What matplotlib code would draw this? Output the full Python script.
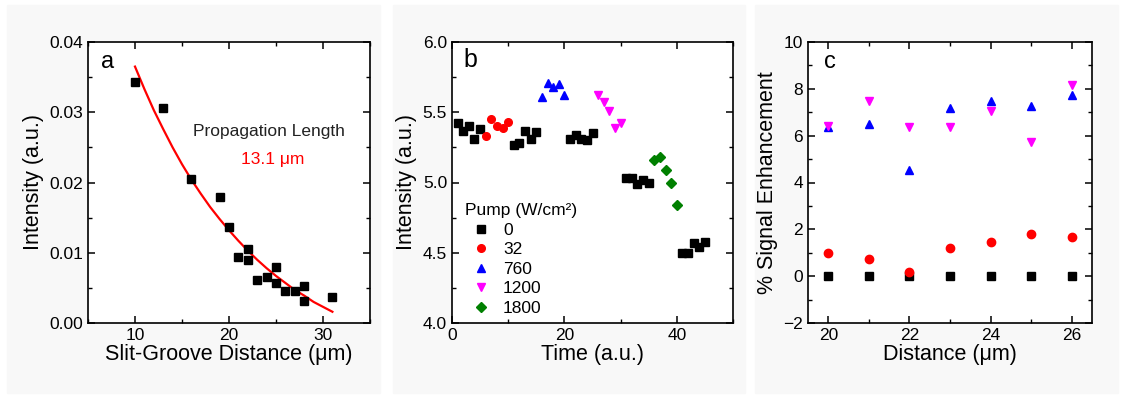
import numpy as np
import matplotlib
matplotlib.use("Agg")
import matplotlib.pyplot as plt
from matplotlib.patches import Rectangle
from matplotlib.ticker import MultipleLocator

plt.rcParams['font.family'] = ['Liberation Sans', 'DejaVu Sans']
plt.rcParams['xtick.direction'] = 'in'
plt.rcParams['ytick.direction'] = 'in'
plt.rcParams['xtick.top'] = True
plt.rcParams['ytick.right'] = True

# panel a: intensity vs slit-groove distance
dist_a = [10, 13, 16, 19, 20, 22, 21, 22, 23, 24, 25, 25, 26, 27, 28, 28, 31]
inten_a = [0.0343, 0.0306, 0.0205, 0.0179, 0.0136, 0.0105, 0.0094, 0.0090,
           0.0061, 0.0065, 0.0080, 0.0057, 0.0045, 0.0045, 0.0053, 0.0032, 0.0037]
# fitted decay curve
fit_x = [10, 11, 12, 13, 14, 15, 16, 17, 18, 19, 20, 21, 22, 23, 24, 25,
         26, 27, 28, 29, 30, 31]
fit_y = [0.0365, 0.0333, 0.0303, 0.0276, 0.0250, 0.0226, 0.0204, 0.0184,
         0.0165, 0.0148, 0.0132, 0.0117, 0.0103, 0.0090, 0.0078, 0.0067,
         0.0057, 0.0047, 0.0039, 0.0030, 0.0023, 0.0016]

# panel b: intensity vs time, grouped by pump power
pump_labels = ['0', '32', '760', '1200', '1800']
t_0 = [1, 2, 3, 4, 5, 11, 12, 13, 14, 15, 21, 22, 23, 24, 25,
       31, 32, 33, 34, 35, 41, 42, 43, 44, 45]
i_0 = [5.42, 5.37, 5.40, 5.31, 5.38, 5.27, 5.28, 5.37, 5.31, 5.36,
       5.31, 5.34, 5.31, 5.30, 5.35, 5.03, 5.03, 4.99, 5.02, 5.00,
       4.50, 4.50, 4.57, 4.54, 4.58]
t_32 = [6, 7, 8, 9, 10]
i_32 = [5.33, 5.45, 5.40, 5.39, 5.43]
t_760 = [16, 17, 18, 19, 20]
i_760 = [5.61, 5.71, 5.68, 5.70, 5.62]
t_1200 = [26, 27, 28, 29, 30]
i_1200 = [5.62, 5.57, 5.51, 5.39, 5.42]
t_1800 = [36, 37, 38, 39, 40]
i_1800 = [5.16, 5.18, 5.09, 5.00, 4.84]

# panel c: signal enhancement vs distance
dist_c = [20, 21, 22, 23, 24, 25, 26]
enh_0 = [0, 0, 0, 0, 0, 0, 0]
enh_32 = [0.97, 0.74, 0.16, 1.20, 1.48, 1.79, 1.66]
enh_760 = [6.36, 6.51, 4.53, 7.19, 7.47, 7.26, 7.72]
enh_1200 = [6.41, 7.48, 6.35, 6.35, 7.07, 5.72, 8.15]

fig = plt.figure(figsize=(11.24, 3.98), dpi=100)
W, H = 1124, 398

# faint grey backgrounds behind each panel
for x0, x1 in [(7, 380), (393, 745), (755, 1118)]:
    fig.patches.append(Rectangle((x0 / W, 5 / H), (x1 - x0) / W, 388 / H,
                                 transform=fig.transFigure, color='#f8f8f8', zorder=-5))

def make_ax(left, right):
    ax = fig.add_axes([left / W, 1 - 323 / H, (right - left) / W, 281 / H])
    for s in ax.spines.values():
        s.set_linewidth(1.2)
    ax.tick_params(which='major', length=5, width=1.1, labelsize=12.5)
    ax.tick_params(which='minor', length=3, width=1.0)
    ax.set_facecolor('white')
    return ax

ms = 5.5
lab_fs = 15.5

# ---- a
ax = make_ax(88, 370)
ax.plot(fit_x, fit_y, color='red', lw=1.6)
ax.plot(dist_a, inten_a, 's', color='black', ms=ms, ls='none')
ax.set_xlim(5, 35)
ax.set_ylim(0, 0.04)
ax.xaxis.set_major_locator(MultipleLocator(10))
ax.xaxis.set_minor_locator(MultipleLocator(5))
ax.yaxis.set_major_locator(MultipleLocator(0.01))
ax.yaxis.set_minor_locator(MultipleLocator(0.005))
ax.yaxis.set_major_formatter(matplotlib.ticker.FormatStrFormatter('%.2f'))
ax.set_xlabel('Slit-Groove Distance (\u03bcm)', fontsize=lab_fs, labelpad=1)
ax.set_ylabel('Intensity (a.u.)', fontsize=lab_fs, labelpad=4)
ax.text(16.2, 0.0272, 'Propagation Length', fontsize=12.5, va='center', color='#222222')
ax.text(24.7, 0.0233, '13.1 \u03bcm', fontsize=12.5, va='center', ha='center', color='red')
ax.text(0.046, 0.93, 'a', transform=ax.transAxes, fontsize=17, va='center')

# ---- b
ax = make_ax(452, 733)
ax.plot(t_0, i_0, 's', color='black', ms=ms, ls='none', label=pump_labels[0])
ax.plot(t_32, i_32, 'o', color='red', ms=ms, ls='none', label=pump_labels[1])
ax.plot(t_760, i_760, '^', color='blue', ms=ms + 0.5, ls='none', label=pump_labels[2])
ax.plot(t_1200, i_1200, 'v', color='#ff00ff', ms=ms + 0.5, ls='none', label=pump_labels[3])
ax.plot(t_1800, i_1800, 'D', color='green', ms=ms - 0.8, ls='none', label=pump_labels[4])
ax.set_xlim(0, 50)
ax.set_ylim(4.0, 6.0)
ax.xaxis.set_major_locator(MultipleLocator(20))
ax.xaxis.set_minor_locator(MultipleLocator(10))
ax.yaxis.set_major_locator(MultipleLocator(0.5))
ax.yaxis.set_minor_locator(MultipleLocator(0.25))
ax.yaxis.set_major_formatter(matplotlib.ticker.FormatStrFormatter('%.1f'))
ax.set_xlabel('Time (a.u.)', fontsize=lab_fs, labelpad=1)
ax.set_ylabel('Intensity (a.u.)', fontsize=lab_fs, labelpad=4)
leg = ax.legend(title='Pump (W/cm\u00b2)', loc='lower left', bbox_to_anchor=(-0.01, -0.03),
                frameon=False, fontsize=12.5, title_fontsize=12.5, handlelength=1.85,
                handletextpad=0.35, labelspacing=0.25, alignment='left')
ax.text(0.04, 0.935, 'b', transform=ax.transAxes, fontsize=18, va='center')

# ---- c
ax = make_ax(808, 1092)
ax.plot(dist_c, enh_0, 's', color='black', ms=ms, ls='none')
ax.plot(dist_c, enh_32, 'o', color='red', ms=ms + 0.5, ls='none')
ax.plot(dist_c, enh_760, '^', color='blue', ms=ms + 0.5, ls='none')
ax.plot(dist_c, enh_1200, 'v', color='#ff00ff', ms=ms + 0.5, ls='none')
ax.set_xlim(19.5, 26.5)
ax.set_ylim(-2, 10)
ax.xaxis.set_major_locator(MultipleLocator(2))
ax.xaxis.set_minor_locator(MultipleLocator(1))
ax.yaxis.set_major_locator(MultipleLocator(2))
ax.yaxis.set_minor_locator(MultipleLocator(1))
ax.set_xlabel('Distance (\u03bcm)', fontsize=lab_fs, labelpad=1)
ax.set_ylabel('% Signal Enhancement', fontsize=lab_fs, labelpad=4)
ax.text(0.056, 0.93, 'c', transform=ax.transAxes, fontsize=17, va='center')

fig.savefig('out.png', dpi=100)
